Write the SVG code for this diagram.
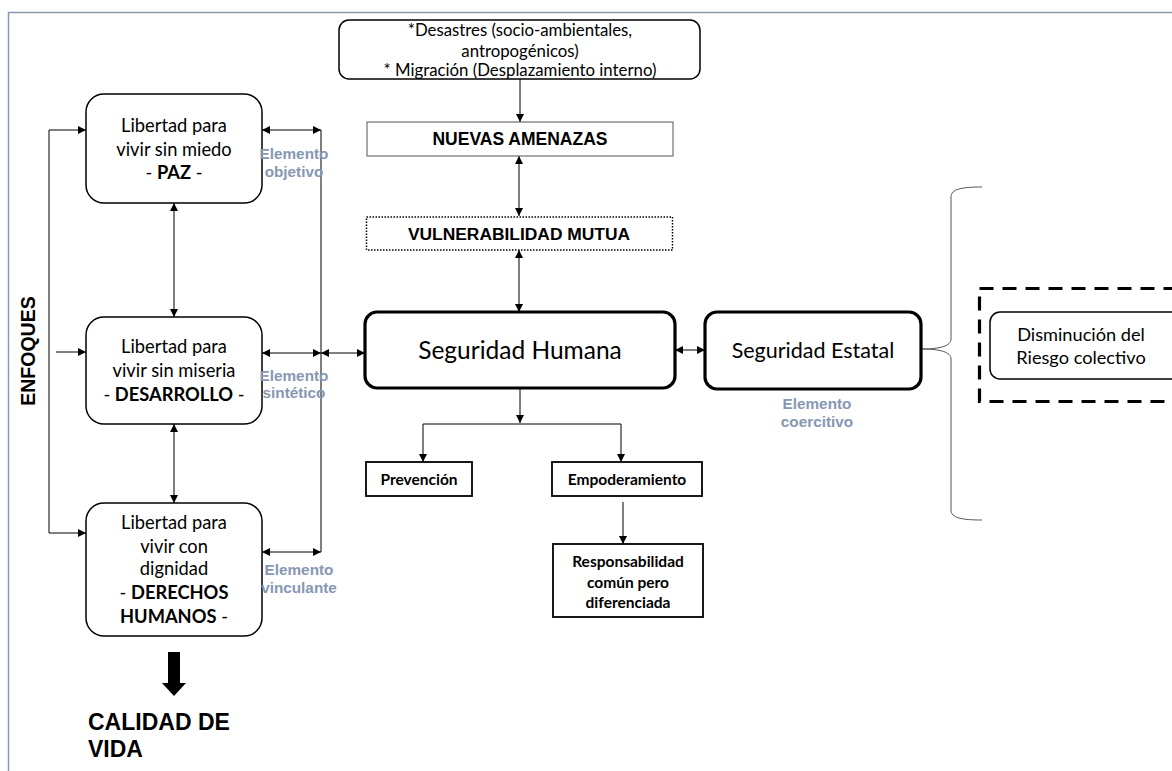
<svg xmlns="http://www.w3.org/2000/svg" width="1172" height="771" viewBox="0 0 1172 771">
  <style>
    .box { fill: #fff; stroke: #000; stroke-width: 1.5; }
    .thick { fill: #fff; stroke: #000; stroke-width: 3.2; }
    .sq { fill: #fff; stroke: #000; stroke-width: 1.8; }
    .con { fill: none; stroke: #000; stroke-width: 1; }
    .t { font-family: Lato, "Open Sans", sans-serif; fill: #000; text-anchor: middle; }
    .lib { font-size: 18.3px; }
    .tb { font-family: Lato, "Open Sans", sans-serif; font-weight: bold; fill: #000; text-anchor: middle; font-size: 15.5px; }
    .ar { font-family: "Liberation Sans", Arial, sans-serif; font-weight: bold; fill: #000; }
    .el { font-family: "Liberation Sans", Arial, sans-serif; font-weight: bold; fill: #8797b2; font-size: 15.3px; text-anchor: middle; }
  </style>
  <defs>
    <marker id="ah" viewBox="0 0 10 10" refX="10" refY="5" markerWidth="8" markerHeight="8" markerUnits="userSpaceOnUse" orient="auto-start-reverse">
      <path d="M0,0 L10,5 L0,10 z" fill="#000"/>
    </marker>
  </defs>

  <!-- page frame -->
  <rect x="8.5" y="12.5" width="1200" height="800" fill="none" stroke="#8a97b2" stroke-width="1.5"/>

  <!-- connectors -->
  <g id="connectors">
    <line class="con" x1="520" y1="79" x2="520" y2="122" marker-end="url(#ah)"/>
    <line class="con" x1="519" y1="156" x2="519" y2="216" marker-start="url(#ah)" marker-end="url(#ah)"/>
    <line class="con" x1="519" y1="250" x2="519" y2="312" marker-start="url(#ah)" marker-end="url(#ah)"/>
    <line class="con" x1="675" y1="350" x2="705" y2="350" marker-start="url(#ah)" marker-end="url(#ah)"/>
    <line class="con" x1="520" y1="388" x2="520" y2="423" marker-end="url(#ah)"/>
    <path class="con" d="M423,462 V424 H621 V462" marker-start="url(#ah)" marker-end="url(#ah)"/>
    <line class="con" x1="623" y1="502" x2="623" y2="544" marker-end="url(#ah)"/>
    <path class="con" d="M86,130 H49 V533 H86" marker-start="url(#ah)" marker-end="url(#ah)"/>
    <line class="con" x1="56" y1="352" x2="86" y2="352" marker-end="url(#ah)"/>
    <line class="con" x1="174" y1="203" x2="174" y2="317" marker-start="url(#ah)" marker-end="url(#ah)"/>
    <line class="con" x1="174" y1="424" x2="174" y2="503" marker-start="url(#ah)" marker-end="url(#ah)"/>
    <line class="con" x1="321" y1="130" x2="321" y2="552"/>
    <line class="con" x1="262" y1="130" x2="321" y2="130" marker-start="url(#ah)" marker-end="url(#ah)"/>
    <line class="con" x1="262" y1="353" x2="321" y2="353" marker-start="url(#ah)" marker-end="url(#ah)"/>
    <line class="con" x1="262" y1="552" x2="321" y2="552" marker-start="url(#ah)" marker-end="url(#ah)"/>
    <line class="con" x1="321" y1="353" x2="365" y2="353" marker-start="url(#ah)" marker-end="url(#ah)"/>
    <!-- brace grouping the state-security outcome -->
    <path d="M982,187 C962,187 951,189 951,197 V339 C951,346 940,349 922,349 C940,349 951,352 951,359 V510 C951,518 962,520 982,520" fill="none" stroke="#555" stroke-width="1"/>
    <!-- block arrow toward quality of life -->
    <polygon points="168,652 180,652 180,683 186,683 174,696 162,683 168,683" fill="#000"/>
  </g>

  <!-- threats source -->
  <g id="node-desastres">
    <rect class="box" x="339" y="20" width="361" height="59" rx="10"/>
    <text class="t" font-size="16.8" x="520" y="36">*Desastres (socio-ambientales,</text>
    <text class="t" font-size="16.8" x="520" y="57">antropogénicos)</text>
    <text class="t" font-size="16.8" x="520" y="76">* Migración (Desplazamiento interno)</text>
  </g>

  <g id="node-amenazas">
    <rect x="367" y="122" width="306" height="34" fill="#fff" stroke="#555" stroke-width="1"/>
    <text class="ar" font-size="17.5" x="520" y="145" text-anchor="middle">NUEVAS AMENAZAS</text>
  </g>

  <g id="node-vulnerabilidad">
    <rect x="366.5" y="217" width="306" height="33" fill="#fff" stroke="#000" stroke-width="1.5" stroke-dasharray="1.5,1.5"/>
    <text class="ar" font-size="17.4" x="519" y="240" text-anchor="middle">VULNERABILIDAD MUTUA</text>
  </g>

  <g id="node-seguridad-humana">
    <rect class="thick" x="365" y="312" width="310" height="76" rx="12"/>
    <text class="t" font-size="24.5" x="520" y="359">Seguridad Humana</text>
  </g>

  <g id="node-seguridad-estatal">
    <rect class="thick" x="705" y="312" width="216" height="77" rx="12"/>
    <text class="t" font-size="21.5" x="813" y="358">Seguridad Estatal</text>
  </g>

  <g id="label-coercitivo">
    <text class="el" x="817" y="409">Elemento</text>
    <text class="el" x="817" y="427">coercitivo</text>
  </g>

  <g id="node-riesgo">
    <rect x="979.5" y="288.5" width="220" height="113" fill="none" stroke="#000" stroke-width="3.2" stroke-dasharray="14,9"/>
    <rect class="box" x="990" y="312" width="200" height="67" rx="10"/>
    <text class="t" font-size="18.2" x="1081" y="341">Disminución del</text>
    <text class="t" font-size="18.2" x="1081" y="364">Riesgo colectivo</text>
  </g>

  <g id="node-prevencion">
    <rect class="sq" x="366" y="462" width="106" height="34"/>
    <text class="tb" x="419" y="485">Prevención</text>
  </g>

  <g id="node-empoderamiento">
    <rect class="sq" x="552" y="462" width="150" height="34"/>
    <text class="tb" x="627" y="485">Empoderamiento</text>
  </g>

  <g id="node-responsabilidad">
    <rect class="sq" x="553" y="544" width="150" height="73"/>
    <text class="tb" x="628" y="567">Responsabilidad</text>
    <text class="tb" x="628" y="588">común pero</text>
    <text class="tb" x="628" y="608">diferenciada</text>
  </g>

  <g id="node-paz">
    <rect class="box" x="86" y="94" width="176" height="109" rx="18"/>
    <text class="t lib" x="174" y="132">Libertad para</text>
    <text class="t lib" x="174" y="156">vivir sin miedo</text>
    <text class="t lib" x="174" y="179">- <tspan font-weight="bold">PAZ</tspan> -</text>
  </g>

  <g id="node-desarrollo">
    <rect class="box" x="86" y="317" width="176" height="107" rx="18"/>
    <text class="t lib" x="174" y="353">Libertad para</text>
    <text class="t lib" x="174" y="377">vivir sin miseria</text>
    <text class="t lib" x="174" y="401">- <tspan font-weight="bold">DESARROLLO</tspan> -</text>
  </g>

  <g id="node-derechos">
    <rect class="box" x="86" y="503" width="176" height="133" rx="18"/>
    <text class="t lib" x="174" y="529">Libertad para</text>
    <text class="t lib" x="174" y="553">vivir con</text>
    <text class="t lib" x="174" y="575">dignidad</text>
    <text class="t lib" x="174" y="599">- <tspan font-weight="bold">DERECHOS</tspan></text>
    <text class="t lib" x="174" y="623"><tspan font-weight="bold">HUMANOS</tspan> -</text>
  </g>

  <g id="labels-elementos">
    <text class="el" x="294" y="159">Elemento</text>
    <text class="el" x="294" y="177">objetivo</text>
    <text class="el" x="294" y="381">Elemento</text>
    <text class="el" x="294" y="398">sintético</text>
    <text class="el" x="299" y="575">Elemento</text>
    <text class="el" x="299" y="593">vinculante</text>
  </g>

  <g id="label-enfoques">
    <text class="ar" font-size="19.5" x="0" y="0" text-anchor="middle" transform="translate(35,351) rotate(-90)">ENFOQUES</text>
  </g>

  <g id="label-calidad">
    <text class="ar" font-size="23" x="88" y="730">CALIDAD DE</text>
    <text class="ar" font-size="23" x="88" y="757">VIDA</text>
  </g>
</svg>
